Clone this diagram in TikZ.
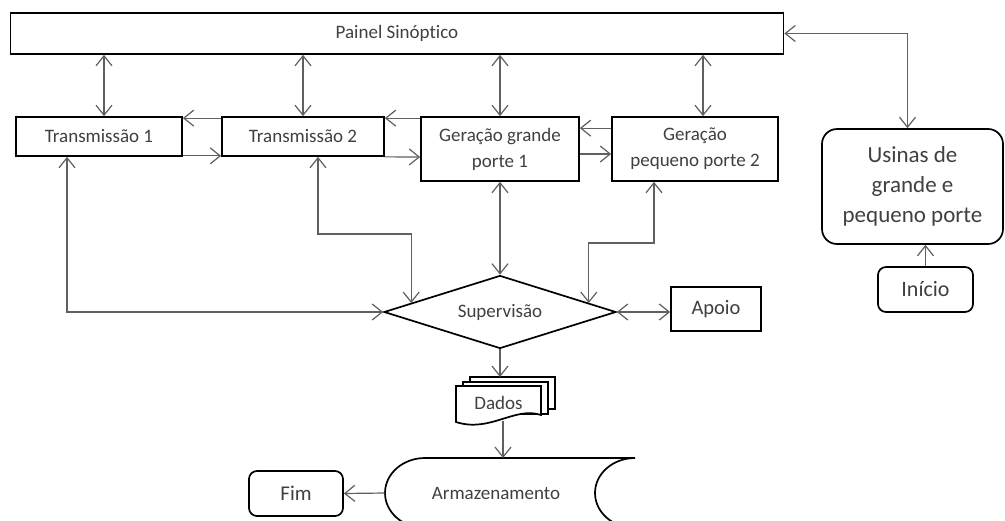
\documentclass[tikz,border=0pt]{standalone}
\usepackage{fontspec}
\setmainfont{Carlito}[Ligatures=NoCommon]
\usetikzlibrary{arrows.meta,shapes.geometric,calc}
\definecolor{txt}{HTML}{404040}
\definecolor{ln}{HTML}{606060}
\begin{document}
\begin{tikzpicture}[x=1pt,y=-1pt,
  >={Straight Barb[length=10pt,width=16pt]},
  box/.style={draw=black,line width=1.7pt,fill=white,text=txt,inner sep=0pt,align=center,font=\fontsize{19}{26}\selectfont},
  rbox/.style={box,rounded corners=8pt},
  conn/.style={draw=ln,line width=1.2pt},
  shp/.style={draw=black,line width=1.7pt,fill=white},
  lbl/.style={text=txt,inner sep=0pt,font=\fontsize{19}{26}\selectfont}
]
\useasboundingbox (0,0) rectangle (1005,520);
\fill[white] (0,0) rectangle (1005,520);

% nodes
\node[box,minimum width=773pt,minimum height=41pt] (painel) at (397,33.5) {Painel Sinóptico};
\node[box,minimum width=166pt,minimum height=39pt] (t1) at (99,136.5) {Transmissão 1};
\node[box,minimum width=162pt,minimum height=39pt] (t2) at (303,136.5) {Transmissão 2};
\node[box,minimum width=158pt,minimum height=64pt] (gg) at (500,149) {Geração grande\\porte 1};
\node[box,minimum width=166pt,minimum height=64pt] (gp) at (695,149) {Geração\\pequeno porte 2};
\node[box,rounded corners=15pt,minimum width=181pt,minimum height=115pt,font=\fontsize{23}{30}\selectfont] (us) at (912.5,186.5) {Usinas de\\grande e\\pequeno porte};
\node[rbox,minimum width=95pt,minimum height=45pt,font=\fontsize{22}{26}\selectfont] (ini) at (925.5,289.5) {Início};
\node[box,minimum width=90pt,minimum height=44pt,font=\fontsize{20.5}{26}\selectfont] (apoio) at (716,309) {Apoio};
\node[box,diamond,shape aspect=3,minimum width=232pt,minimum height=73pt] (sup) at (500,312) {Supervisão};
\node[rbox,minimum width=94pt,minimum height=45pt,font=\fontsize{21}{26}\selectfont] (fim) at (296,493.5) {Fim};

% Dados (multi-document)
\draw[shp] (470,377) rectangle (555,409);
\draw[shp] (463,382) rectangle (548,414);
\draw[shp] (456,386) -- (541,386) -- (541,415)
  .. controls (515,406) and (490,433) .. (456,422) -- cycle;
\node[lbl,minimum width=85pt,minimum height=36pt] (dados) at (498.5,403) {Dados};

% Armazenamento (stored data)
\draw[shp] (635,458) -- (425,458)
  arc[start angle=90,end angle=270,x radius=40pt,y radius=35pt]
  -- (635,528)
  arc[start angle=270,end angle=90,x radius=40pt,y radius=35pt] -- cycle;
\node[lbl] (arm) at (496,493) {Armazenamento};

% helper coordinates
\coordinate (s1) at ($(sup.west)!0.24!(sup.north)$);
\coordinate (s2) at ($(sup.east)!0.24!(sup.north)$);
\coordinate (dtop) at (501,377);
\coordinate (atop) at (503,458);
\coordinate (armL) at (385,493);

% connectors to panel
\draw[conn,<->] ([xshift=5pt]t1.north) -- ([xshift=5pt]t1.north |- painel.south);
\draw[conn,<->] (t2.north) -- (t2.north |- painel.south);
\draw[conn,<->] (gg.north) -- (gg.north |- painel.south);
\draw[conn,<->] ([xshift=8pt]gp.north) -- ([xshift=8pt]gp.north |- painel.south);
\draw[conn,<->] (painel.east) -| ([xshift=-5pt]us.north);

% horizontal links
\draw[conn,->] ($(t2.north west)+(0,2)$) -- ($(t1.north east)+(0,2)$);
\draw[conn,->] ($(t1.south east)+(0,-1)$) -- ($(t2.south west)+(0,-1)$);
\draw[conn,->] ($(gg.north west)+(0,2)$) -- ($(t2.north east)+(0,2)$);
\draw[conn,->] (t2.south east) -- ($(gg.west)+(0,8)$);
\draw[conn,->] ($(gp.north west)+(0,12)$) -- ($(gg.north east)+(0,12)$);
\draw[conn,->] ($(gg.east)+(0,5)$) -- ($(gp.west)+(0,5)$);

% links to supervision
\draw[conn,<->] ([xshift=-32pt]t1.south) |- (sup.west);
\draw[conn,<->] ([xshift=15pt]t2.south) |- ($(s1)+(0,-69)$) -- (s1);
\draw[conn,<->] (gg.south) -- (sup.north);
\draw[conn,<->] ([xshift=-41pt]gp.south) |- ($(s2)+(0,-60)$) -- (s2);
\draw[conn,<->] (sup.east) -- (sup.east -| apoio.west);

% flow
\draw[conn,->] (ini.north) -- (ini.north |- us.south);
\draw[conn,->] (sup.south) -- (sup.south |- dtop);
\draw[conn,->] (atop |- dados.south) -- (atop);
\draw[conn,->] (armL) -- (fim.east);
\end{tikzpicture}
\end{document}
